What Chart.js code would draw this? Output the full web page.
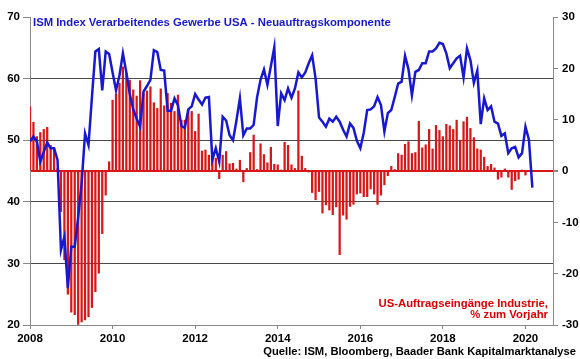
<!DOCTYPE html>
<html><head><meta charset="utf-8">
<script src="https://cdn.jsdelivr.net/npm/chart.js@4"></script>
<style>html,body{margin:0;padding:0;background:#fff;}canvas{display:block;}</style>
</head><body>
<canvas id="c" width="580" height="359"></canvas>
<script>
const titleText = 'ISM Index Verarbeitendes Gewerbe USA - Neuauftragskomponente';
const redLabel1 = 'US-Auftragseingänge Industrie,';
const redLabel2 = '% zum Vorjahr';
const sourceText = 'Quelle: ISM, Bloomberg, Baader Bank Kapitalmarktanalyse';
const yearLabels = ['2008','2010','2012','2014','2016','2018','2020'];

// monthly, Jan 2008 .. Mar 2020
const ismNewOrders = [
49.8,50.6,49.8,46.5,48.1,49.6,48.7,48.7,46.8,32.2,34.3,26.0,
32.7,32.7,37.5,43.0,51.1,49.2,57.0,64.4,64.8,58.1,64.4,64.0,
61.0,58.1,60.5,64.1,61.0,57.5,55.0,53.5,52.2,57.9,58.8,59.8,
64.6,64.3,61.4,61.3,54.8,54.8,56.8,55.7,52.3,52.0,55.0,55.5,
57.5,56.6,55.8,56.9,57.0,46.8,48.7,46.5,53.8,53.2,50.8,50.0,
53.2,56.8,50.8,51.9,51.9,52.5,57.0,59.8,61.5,59.0,62.0,65.1,
52.3,57.6,56.5,58.4,56.9,58.4,61.0,60.2,61.0,62.5,63.8,60.0,
53.7,53.0,52.2,53.5,53.0,53.8,53.0,51.7,50.6,52.7,52.0,49.9,
48.7,51.2,54.9,55.0,55.5,57.0,55.7,51.4,54.4,54.9,57.0,59.2,
59.5,63.7,61.5,57.3,61.1,61.4,62.5,62.5,64.4,64.4,64.9,65.8,
65.6,64.1,61.7,62.5,63.3,63.7,60.2,64.9,63.0,59.3,61.3,52.6,
56.8,54.9,55.5,53.0,52.7,50.7,51.1,47.9,48.7,48.9,47.2,47.9,
52.2,50.1,42.3
];
// monthly, Jan 2008 .. Jan 2020, % yoy
const factoryOrdersYoY = [
12.5,9.5,6.7,7.5,8.1,8.5,5.0,4.4,0.5,-7.9,-17.3,-24.0,
-27.5,-28.0,-29.9,-29.4,-29.0,-28.4,-26.6,-23.5,-19.9,-12.2,-4.7,1.8,
13.8,15.0,17.1,20.3,19.0,17.7,15.8,14.6,17.6,15.1,15.6,16.4,
13.3,12.2,16.0,12.7,15.1,13.2,11.6,14.8,9.9,9.9,12.0,11.6,
7.7,11.1,3.9,4.1,3.1,2.8,2.5,-1.5,3.1,3.8,1.4,1.5,
0.4,2.1,-2.1,0.5,3.6,7.0,0.3,5.3,3.2,1.6,4.6,1.3,
1.2,0.1,5.6,5.0,1.2,0.5,15.6,2.9,0.5,-0.2,-4.2,-5.6,
-4.0,-8.2,-6.6,-7.6,-8.5,-7.0,-16.3,-8.6,-9.4,-6.9,-6.5,-4.5,
-4.3,-5.0,-5.0,-3.5,-4.5,-6.5,-4.7,-2.7,-0.9,0.9,0.3,3.4,
3.1,5.2,5.7,3.4,3.6,9.7,4.5,5.1,8.1,4.3,8.9,7.9,
6.7,9.1,8.8,8.1,9.9,6.0,9.6,10.5,8.3,6.5,4.3,4.1,
2.7,0.9,1.3,0.6,-1.6,-1.2,0.4,-1.2,-3.6,-1.9,-1.6,0.1,
-0.8
];

const BLUE = '#1818d2';
const RED = '#d81818';
const FONT = '"Liberation Sans", Arial, sans-serif';

const textPlugin = {
  id: 'texts',
  afterDraw(chart) {
    const ctx = chart.ctx;
    ctx.save();
    ctx.textBaseline = 'middle';
    ctx.font = 'bold 11.3px ' + FONT;
    ctx.fillStyle = BLUE;
    ctx.textAlign = 'left';
    ctx.fillText(titleText, 33, 23);
    ctx.fillStyle = '#e00000';
    ctx.textAlign = 'right';
    ctx.fillText(redLabel1, 548, 304);
    ctx.fillText(redLabel2, 548, 315);
    ctx.fillStyle = '#000';
    ctx.font = 'bold 11.2px ' + FONT;
    ctx.fillText(sourceText, 576, 352);
    ctx.restore();
  }
};

new Chart(document.getElementById('c'), {
  type: 'bar',
  data: {
    datasets: [
      {
        type: 'line',
        data: ismNewOrders.map((v, i) => ({x: i, y: v})),
        yAxisID: 'y',
        borderColor: BLUE,
        borderWidth: 2.5,
        pointRadius: 0,
        tension: 0,
        order: 0
      },
      {
        type: 'bar',
        data: factoryOrdersYoY.map((v, i) => ({x: i, y: v})),
        yAxisID: 'y2',
        backgroundColor: RED,
        barThickness: 1.6,
        order: 1
      }
    ]
  },
  options: {
    responsive: false,
    animation: false,
    layout: {padding: {top: 17, left: 0, right: 0, bottom: 0}},
    plugins: {legend: {display: false}, tooltip: {enabled: false}, title: {display: false}},
    scales: {
      x: {
        type: 'linear',
        min: 0, max: 152,
        offset: false,
        afterFit(s) { s.height = 34; },
        grid: {display: true, drawOnChartArea: false, tickLength: 4, tickColor: '#888', offset: false},
        border: {display: true, color: '#8a8a8a', width: 1},
        ticks: {
          stepSize: 24, includeBounds: false, autoSkip: false, maxRotation: 0, padding: 3,
          font: {family: FONT, size: 11.5, weight: 'bold'}, color: '#000',
          callback: (v) => yearLabels[v / 24] || ''
        }
      },
      y: {
        position: 'left',
        min: 20, max: 70,
        afterFit(s) { s.width = 30; },
        grid: {
          color: (c) => (c.tick && (c.tick.value === 70 || c.tick.value === 20)) ? 'rgba(0,0,0,0)' : '#4a4a4a',
          tickColor: '#888', tickLength: 7, lineWidth: 1
        },
        border: {display: true, color: '#8a8a8a', width: 1},
        ticks: {stepSize: 10, padding: 3, font: {family: FONT, size: 11.5, weight: 'bold'}, color: '#000'}
      },
      y2: {
        position: 'right',
        min: -30, max: 30,
        afterFit(s) { s.width = 27; },
        grid: {
          color: (c) => (c.tick && c.tick.value === 0) ? RED : 'rgba(0,0,0,0)',
          lineWidth: (c) => (c.tick && c.tick.value === 0) ? 2 : 1,
          tickColor: '#888', tickLength: 5
        },
        border: {display: true, color: '#8a8a8a', width: 1},
        ticks: {stepSize: 10, padding: 4, font: {family: FONT, size: 11.5, weight: 'bold'}, color: '#000'}
      }
    }
  },
  plugins: [textPlugin]
});
</script>
</body></html>
